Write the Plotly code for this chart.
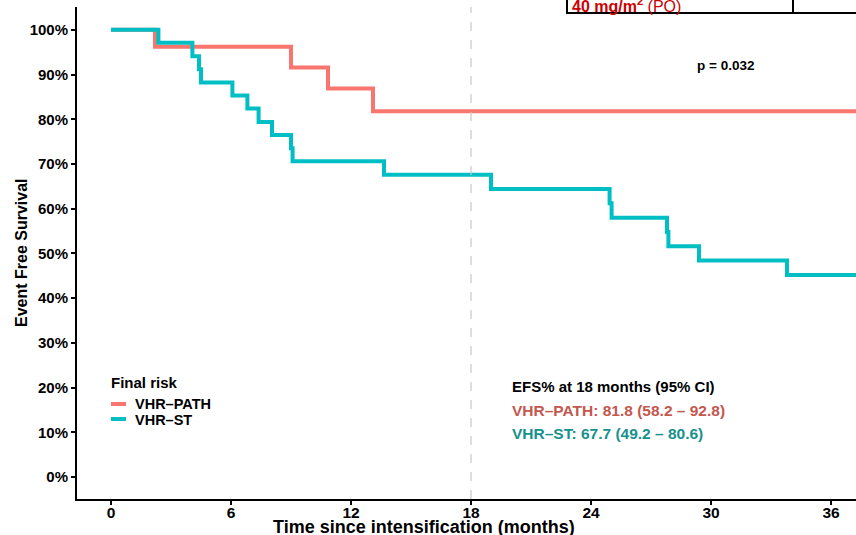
import plotly.graph_objects as go

# ---- data ----
path_t = [0, 2.2, 9.0, 10.85, 13.1, 37.3]
path_s = [100, 96.2, 91.6, 86.9, 81.8, 81.8]

st_t = [0, 2.37, 4.07, 4.4, 4.5, 6.07, 6.82, 7.38, 8.05, 9.0, 9.08, 13.65,
        19.0, 24.93, 25.03, 27.8, 27.87, 29.4, 33.8, 37.3]
st_s = [100, 97.1, 94.1, 91.2, 88.2, 85.3, 82.4, 79.4, 76.5, 73.5, 70.6, 67.6,
        64.4, 61.2, 58.0, 54.8, 51.6, 48.4, 45.2, 45.2]

x_ticks = [0, 6, 12, 18, 24, 30, 36]
y_ticks = [0, 10, 20, 30, 40, 50, 60, 70, 80, 90, 100]

RED = "#F8766D"
CYAN = "#00BFC4"
FONT = "Liberation Sans"

W, H = 856, 535
L, R, T, B = 77, 0, 7, 36
pw, ph = W - L - R, H - T - B


def px(xp):
    return (xp - L) / pw


def py(yp):
    return (H - B - yp) / ph


fig = go.Figure()
fig.add_trace(go.Scatter(x=path_t, y=path_s, mode="lines", line=dict(color=RED, width=4, shape="hv"),
                         name="VHR–PATH", showlegend=False))
fig.add_trace(go.Scatter(x=st_t, y=st_s, mode="lines", line=dict(color=CYAN, width=4, shape="hv"),
                         name="VHR–ST", showlegend=False))

fig.add_vline(x=18, line=dict(color="#C8C8C8", width=1.2, dash="dash"))

shapes = []
# legend line samples
shapes.append(dict(type="line", xref="paper", yref="paper", x0=px(111), x1=px(126), y0=py(404), y1=py(404),
                   line=dict(color=RED, width=4)))
shapes.append(dict(type="line", xref="paper", yref="paper", x0=px(111), x1=px(126), y0=py(419), y1=py(419),
                   line=dict(color=CYAN, width=4)))
# cropped table box at top right
shapes.append(dict(type="rect", xref="paper", yref="paper", x0=px(567), x1=px(870), y0=py(13), y1=py(-20),
                   line=dict(color="black", width=2), layer="above"))
shapes.append(dict(type="line", xref="paper", yref="paper", x0=px(793), x1=px(793), y0=py(13), y1=py(-20),
                   line=dict(color="black", width=2)))
fig.update_layout(shapes=list(fig.layout.shapes) + shapes)

ann = []


def add_text(text, xp, yp, size=14, color="black", bold=True, xanchor="left", yanchor="middle", angle=0):
    ann.append(dict(text=text, xref="paper", yref="paper", x=px(xp), y=py(yp), showarrow=False,
                    xanchor=xanchor, yanchor=yanchor, textangle=angle,
                    font=dict(family=FONT, size=size, color=color, weight="bold" if bold else "normal")))


add_text("p = 0.032", 725, 66, size=13.5, xanchor="center")
add_text("Final risk", 109, 382, size=15)
add_text("VHR–PATH", 133, 404.5, size=14.5)
add_text("VHR–ST", 133, 420, size=14.5)
add_text("EFS% at 18 months (95% CI)", 510, 386, size=15)
add_text("VHR–PATH: 81.8 (58.2 – 92.8)", 510, 410, size=15.5, color="#C4574E")
add_text("VHR–ST: 67.7 (49.2 – 80.6)", 510, 433, size=15.5, color="#17918C")
add_text("Time since intensification (months)", 424, 527, size=18, xanchor="center")
add_text("Event Free Survival", 21, 253, size=16, xanchor="center", angle=-90)
add_text("<b>40 mg/m<sup>2</sup></b> (PO)", 570, 17, size=16, color="#CC0000", bold=False, yanchor="bottom")

fig.update_layout(annotations=ann)

fig.update_layout(
    width=W, height=H,
    margin=dict(l=L, r=R, t=T, b=B),
    plot_bgcolor="white", paper_bgcolor="white",
    showlegend=False,
    xaxis=dict(range=[-1.7, 37.25], tickvals=x_ticks, ticktext=[str(v) for v in x_ticks],
               showgrid=False, zeroline=False, showline=True, linecolor="black", linewidth=2,
               ticks="outside", ticklen=4, tickwidth=1.5, tickcolor="black", ticklabelstandoff=-6,
               tickfont=dict(family=FONT, size=15.5, color="black", weight="bold")),
    yaxis=dict(range=[-4.9, 105.1], tickvals=y_ticks, ticktext=[f"{v}%" for v in y_ticks],
               showgrid=False, zeroline=False, showline=True, linecolor="black", linewidth=2,
               ticks="outside", ticklen=4, tickwidth=1.5, tickcolor="black",
               tickfont=dict(family=FONT, size=15, color="black", weight="bold")),
)

fig.write_html("out.html")
